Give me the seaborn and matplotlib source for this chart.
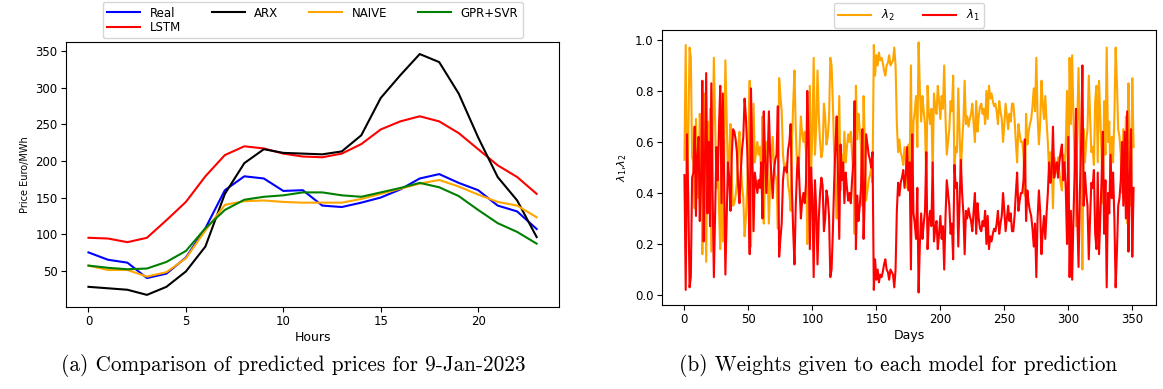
import matplotlib
matplotlib.use("Agg")
import matplotlib.pyplot as plt
import seaborn as sns

# (a) hourly prices for 9-Jan-2023
hours = list(range(24))
real = [75, 65, 61, 40, 46, 68, 108, 160, 179, 176, 159, 160, 139, 137, 143, 150, 161, 176, 182, 170, 160, 139, 131, 107]
lstm = [95, 94, 89, 95, 119, 144, 179, 208, 220, 217, 210, 206, 205, 210, 223, 243, 254, 261, 254, 238, 216, 194, 178, 155]
arx = [28, 26, 24, 17, 28, 49, 83, 155, 197, 216, 211, 210, 209, 213, 235, 286, 317, 346, 335, 292, 232, 178, 146, 96]
naive = [57, 51, 51, 42, 48, 67, 105, 140, 145, 146, 144, 143, 143, 143, 148, 155, 162, 169, 174, 165, 154, 144, 139, 123]
gpr_svr = [57, 54, 52, 53, 62, 77, 108, 133, 147, 151, 153, 157, 157, 153, 151, 157, 163, 170, 164, 152, 133, 115, 103, 87]

# (b) daily weights
lambda_1 = [
    0.47, 0.02, 0.63, 0.38, 0.03, 0.07, 0.46, 0.48, 0.66, 0.31,
    0.55, 0.62, 0.29, 0.45, 0.84, 0.21, 0.52, 0.87, 0.32, 0.60,
    0.27, 0.83, 0.40, 0.07, 0.33, 0.58, 0.45, 0.66, 0.82, 0.36,
    0.79, 0.47, 0.08, 0.30, 0.52, 0.46, 0.33, 0.55, 0.65, 0.64,
    0.61, 0.56, 0.43, 0.36, 0.48, 0.57, 0.62, 0.77, 0.70, 0.58,
    0.40, 0.16, 0.81, 0.55, 0.25, 0.48, 0.44, 0.40, 0.45, 0.42,
    0.52, 0.30, 0.72, 0.55, 0.40, 0.52, 0.72, 0.55, 0.46, 0.38,
    0.49, 0.53, 0.55, 0.74, 0.15, 0.22, 0.28, 0.45, 0.50, 0.50,
    0.48, 0.57, 0.60, 0.67, 0.41, 0.25, 0.12, 0.35, 0.49, 0.54,
    0.42, 0.30, 0.37, 0.40, 0.36, 0.44, 0.80, 0.62, 0.18, 0.50,
    0.38, 0.07, 0.45, 0.34, 0.12, 0.30, 0.40, 0.46, 0.43, 0.25,
    0.30, 0.41, 0.38, 0.31, 0.07, 0.10, 0.25, 0.44, 0.58, 0.70,
    0.45, 0.22, 0.59, 0.45, 0.52, 0.36, 0.48, 0.42, 0.37, 0.40,
    0.36, 0.45, 0.52, 0.76, 0.18, 0.39, 0.29, 0.35, 0.42, 0.65,
    0.22, 0.40, 0.63, 0.59, 0.55, 0.53, 0.50, 0.56, 0.02, 0.14,
    0.06, 0.10, 0.05, 0.08, 0.07, 0.09, 0.12, 0.14, 0.10, 0.09,
    0.06, 0.10, 0.09, 0.08, 0.03, 0.10, 0.33, 0.44, 0.39, 0.44,
    0.46, 0.49, 0.42, 0.47, 0.58, 0.41, 0.52, 0.10, 0.63, 0.32,
    0.28, 0.22, 0.42, 0.01, 0.20, 0.32, 0.22, 0.28, 0.33, 0.56,
    0.18, 0.29, 0.33, 0.27, 0.52, 0.21, 0.26, 0.29, 0.18, 0.24,
    0.31, 0.22, 0.27, 0.10, 0.30, 0.45, 0.40, 0.35, 0.24, 0.28,
    0.14, 0.51, 0.42, 0.44, 0.19, 0.36, 0.53, 0.40, 0.32, 0.16,
    0.33, 0.30, 0.34, 0.31, 0.29, 0.25, 0.33, 0.40, 0.24, 0.36,
    0.30, 0.26, 0.25, 0.29, 0.27, 0.33, 0.20, 0.31, 0.18, 0.23,
    0.21, 0.24, 0.26, 0.25, 0.28, 0.33, 0.24, 0.28, 0.31, 0.40,
    0.33, 0.25, 0.30, 0.35, 0.29, 0.32, 0.25, 0.25, 0.31, 0.40,
    0.48, 0.33, 0.37, 0.40, 0.40, 0.45, 0.61, 0.29, 0.41, 0.36,
    0.33, 0.31, 0.26, 0.19, 0.28, 0.07, 0.30, 0.41, 0.33, 0.16,
    0.25, 0.31, 0.22, 0.32, 0.40, 0.52, 0.44, 0.48, 0.66, 0.46,
    0.50, 0.52, 0.46, 0.52, 0.56, 0.59, 0.45, 0.52, 0.42, 0.20,
    0.62, 0.07, 0.33, 0.06, 0.30, 0.49, 0.73, 0.31, 0.11, 0.40,
    0.58, 0.90, 0.35, 0.48, 0.40, 0.35, 0.14, 0.30, 0.44, 0.42,
    0.49, 0.24, 0.18, 0.48, 0.16, 0.31, 0.45, 0.64, 0.24, 0.45,
    0.03, 0.40, 0.32, 0.55, 0.38, 0.48, 0.30, 0.03, 0.17, 0.35,
    0.38, 0.45, 0.60, 0.35, 0.64, 0.30, 0.72, 0.17, 0.45, 0.65,
    0.15, 0.42,
]
lambda_2 = [
    0.53, 0.98, 0.37, 0.62, 0.97, 0.93, 0.54, 0.52, 0.34, 0.69,
    0.45, 0.38, 0.71, 0.55, 0.16, 0.79, 0.48, 0.13, 0.68, 0.40,
    0.73, 0.17, 0.60, 0.93, 0.67, 0.42, 0.55, 0.34, 0.18, 0.64,
    0.21, 0.53, 0.92, 0.70, 0.48, 0.54, 0.67, 0.45, 0.35, 0.36,
    0.39, 0.44, 0.57, 0.64, 0.52, 0.43, 0.38, 0.23, 0.30, 0.42,
    0.60, 0.84, 0.19, 0.45, 0.75, 0.52, 0.56, 0.60, 0.55, 0.58,
    0.48, 0.70, 0.28, 0.45, 0.60, 0.48, 0.28, 0.45, 0.54, 0.62,
    0.51, 0.47, 0.45, 0.26, 0.85, 0.78, 0.72, 0.55, 0.50, 0.50,
    0.52, 0.43, 0.40, 0.33, 0.59, 0.75, 0.88, 0.65, 0.51, 0.46,
    0.58, 0.70, 0.63, 0.60, 0.64, 0.56, 0.20, 0.38, 0.82, 0.50,
    0.62, 0.93, 0.55, 0.66, 0.88, 0.70, 0.60, 0.54, 0.57, 0.75,
    0.70, 0.59, 0.62, 0.69, 0.93, 0.90, 0.75, 0.56, 0.42, 0.30,
    0.55, 0.78, 0.41, 0.55, 0.48, 0.64, 0.52, 0.58, 0.63, 0.60,
    0.64, 0.55, 0.48, 0.24, 0.82, 0.61, 0.71, 0.65, 0.58, 0.35,
    0.78, 0.60, 0.37, 0.41, 0.45, 0.47, 0.50, 0.44, 0.98, 0.86,
    0.94, 0.90, 0.95, 0.92, 0.93, 0.91, 0.88, 0.86, 0.90, 0.91,
    0.94, 0.90, 0.91, 0.92, 0.97, 0.90, 0.67, 0.56, 0.61, 0.56,
    0.54, 0.51, 0.58, 0.53, 0.42, 0.59, 0.48, 0.90, 0.37, 0.68,
    0.72, 0.78, 0.58, 0.99, 0.80, 0.68, 0.78, 0.72, 0.67, 0.44,
    0.82, 0.71, 0.67, 0.73, 0.48, 0.79, 0.74, 0.71, 0.82, 0.76,
    0.69, 0.78, 0.73, 0.90, 0.70, 0.55, 0.60, 0.65, 0.76, 0.72,
    0.86, 0.49, 0.58, 0.56, 0.81, 0.64, 0.47, 0.60, 0.68, 0.84,
    0.67, 0.70, 0.66, 0.69, 0.71, 0.75, 0.67, 0.60, 0.76, 0.64,
    0.70, 0.74, 0.75, 0.71, 0.73, 0.67, 0.80, 0.69, 0.82, 0.77,
    0.79, 0.76, 0.74, 0.75, 0.72, 0.67, 0.76, 0.72, 0.69, 0.60,
    0.67, 0.75, 0.70, 0.65, 0.71, 0.68, 0.75, 0.75, 0.69, 0.60,
    0.52, 0.67, 0.63, 0.60, 0.60, 0.55, 0.39, 0.71, 0.59, 0.64,
    0.67, 0.69, 0.74, 0.81, 0.72, 0.93, 0.70, 0.59, 0.67, 0.84,
    0.75, 0.69, 0.78, 0.68, 0.60, 0.48, 0.56, 0.52, 0.34, 0.54,
    0.50, 0.48, 0.54, 0.48, 0.44, 0.41, 0.55, 0.48, 0.58, 0.80,
    0.38, 0.93, 0.67, 0.94, 0.70, 0.51, 0.27, 0.69, 0.89, 0.60,
    0.42, 0.10, 0.65, 0.52, 0.60, 0.65, 0.86, 0.70, 0.56, 0.58,
    0.51, 0.76, 0.82, 0.52, 0.84, 0.69, 0.55, 0.36, 0.76, 0.55,
    0.97, 0.60, 0.68, 0.45, 0.62, 0.52, 0.70, 0.97, 0.83, 0.65,
    0.62, 0.55, 0.40, 0.65, 0.36, 0.70, 0.28, 0.83, 0.55, 0.35,
    0.85, 0.58,
]
days = list(range(len(lambda_1)))

fig = plt.figure(figsize=(11.63, 3.89), dpi=100)
ax1 = fig.add_axes([0.0568, 0.211, 0.4239, 0.681])
ax2 = fig.add_axes([0.5692, 0.216, 0.4248, 0.707])

# left panel
sns.lineplot(x=hours, y=real, color="blue", label="Real", ax=ax1, linewidth=1.5)
sns.lineplot(x=hours, y=lstm, color="red", label="LSTM", ax=ax1, linewidth=1.5)
sns.lineplot(x=hours, y=arx, color="black", label="ARX", ax=ax1, linewidth=1.5)
sns.lineplot(x=hours, y=naive, color="orange", label="NAIVE", ax=ax1, linewidth=1.5)
sns.lineplot(x=hours, y=gpr_svr, color="green", label="GPR+SVR", ax=ax1, linewidth=1.5)
ax1.set_xlabel("Hours", fontsize=9, labelpad=2)
ax1.set_ylabel("Price Euro/MWh", fontsize=7)
ax1.tick_params(labelsize=8.5, pad=2.5)
ax1.legend(loc="lower center", bbox_to_anchor=(0.5, 1.0), ncol=4, fontsize=8.5,
           handlelength=2.8, columnspacing=2.6, labelspacing=0.1, borderaxespad=0.3)

# right panel
sns.lineplot(x=days, y=lambda_2, color="orange", label=r"$\lambda_2$", ax=ax2, linewidth=1.5)
sns.lineplot(x=days, y=lambda_1, color="red", label=r"$\lambda_1$", ax=ax2, linewidth=1.5)
ax2.set_xlabel("Days", fontsize=9, labelpad=2)
ax2.set_ylabel(r"$\lambda_1$,$\lambda_2$", fontsize=8)
ax2.tick_params(labelsize=8.5, pad=2.5)
ax2.legend(loc="lower center", bbox_to_anchor=(0.5, 1.0), ncol=2, fontsize=8.5,
           handlelength=2.8, columnspacing=2.4, borderaxespad=0.2)

# captions
fig.text(0.252, 0.045, "(a) Comparison of predicted prices for 9-Jan-2023",
         family="cmr10", fontsize=15.3, ha="center")
fig.text(0.772, 0.045, "(b) Weights given to each model for prediction",
         family="cmr10", fontsize=15.3, ha="center")

fig.savefig("out.png", dpi=100)
